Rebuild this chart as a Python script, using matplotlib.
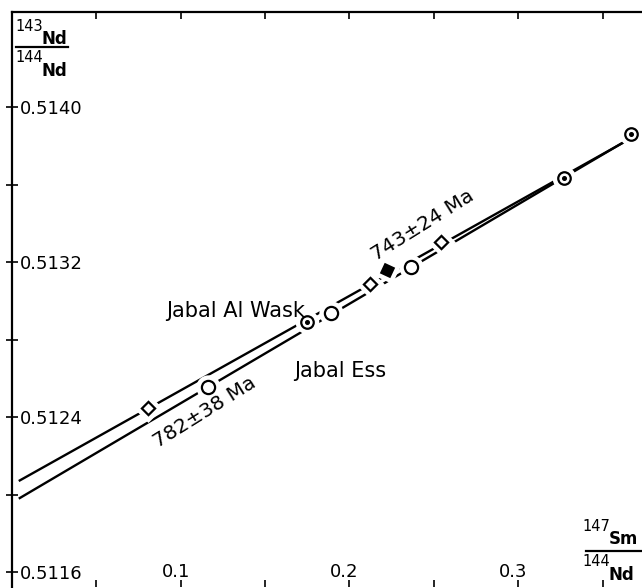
import numpy as np
import matplotlib
matplotlib.use("Agg")
import matplotlib.pyplot as plt
from matplotlib.lines import Line2D

plt.rcParams['font.family'] = ['DejaVu Sans']

# ---- data ----
lam_sm = 6.54e-12                     # 147Sm decay constant (1/yr)
iso_ages_ma = [743, 782]              # isochron ages (Ma)
iso_intercepts = [0.512052, 0.511960] # initial 143Nd/144Nd
iso_x_range = [0.004, 0.375]

# Jabal Al Wask samples
wask_diamond_x = [0.0807, 0.2119, 0.2544]
wask_diamond_y = [0.512446, 0.513086, 0.513303]
wask_filled_x = [0.2225]
wask_filled_y = [0.513159]
# shared / whole-rock points (dotted circles)
dot_x = [0.1746, 0.3271, 0.3667]
dot_y = [0.512890, 0.513634, 0.513861]
# Jabal Ess samples
ess_circle_x = [0.1161, 0.1888, 0.2367]
ess_circle_y = [0.512555, 0.512937, 0.513174]

y_major = [0.5116, 0.5124, 0.5132, 0.5140]
y_major_labels = ['0.5116', '0.5124', '0.5132', '0.5140']
y_minor = [0.5120, 0.5128, 0.5136]
x_major = [0.1, 0.2, 0.3]
x_major_labels = ['0.1', '0.2', '0.3']
x_minor = [0.05, 0.15, 0.25, 0.35]

# ---- figure ----
W, H = 642, 588
fig = plt.figure(figsize=(W / 100, H / 100), dpi=100)

def fx(px):
    return px / W

def fy(py):
    return 1 - py / H

ax = fig.add_axes([fx(12), fy(587), fx(640) - fx(12) + 0.01, fy(12) - fy(587)])
ax.set_xlim(0.0, 0.376)
ax.set_ylim(0.511525, 0.514490)
ax.spines['right'].set_visible(False)
ax.spines['bottom'].set_visible(False)
for s in ['left', 'top']:
    ax.spines[s].set_linewidth(1.6)

# isochron lines
xs = np.array(iso_x_range)
for age, b in zip(iso_ages_ma, iso_intercepts):
    slope = np.exp(lam_sm * age * 1e6) - 1
    ax.plot(xs, b + slope * xs, color='black', lw=1.7, zorder=2,
            solid_capstyle='butt')

def pts(x, y, marker, ms, face, dot=False):
    # white halo creates the line gaps around the symbols
    ax.plot(x, y, ls='none', marker=marker, ms=ms, mfc='white', mec='white',
            mew=8, zorder=3)
    ax.plot(x, y, ls='none', marker=marker, ms=ms, mfc=face, mec='black',
            mew=1.6, zorder=4)
    if dot:
        ax.plot(x, y, ls='none', marker='o', ms=2.6, mfc='black', mec='black',
                zorder=5)

pts(wask_diamond_x, wask_diamond_y, (4, 0, 0), 9.5, 'white')
pts(wask_filled_x, wask_filled_y, (4, 0, 20), 9.5, 'black')
pts(dot_x, dot_y, 'o', 9.0, 'white', dot=True)
pts(ess_circle_x, ess_circle_y, 'o', 9.5, 'white')

# ticks
ax.set_yticks(y_major)
ax.set_yticklabels(y_major_labels)
ax.set_yticks(y_minor, minor=True)
ax.tick_params(axis='y', which='both', direction='inout', length=9, width=1.2,
               left=True, right=False, labelsize=13, pad=-10)
for lbl in ax.get_yticklabels():
    lbl.set_horizontalalignment('left')

ax.set_xticks(x_major + x_minor)
ax.set_xticklabels([])
ax.tick_params(axis='x', which='both', direction='in', length=5, width=1.2,
               top=True, bottom=True, labelbottom=False)
for xv, lab in zip(x_major, x_major_labels):
    ax.text(xv - 0.003, y_major[0], lab, ha='center', va='center', fontsize=13)

# annotations
ax.text(0.1325, 0.512950, 'Jabal Al Wask', ha='center', va='center', fontsize=15)
ax.text(0.1948, 0.512640, 'Jabal Ess', ha='center', va='center', fontsize=15)
ax.text(0.2432, 0.513390, '743±24 Ma', ha='center', va='center', fontsize=14.5,
        rotation=32, rotation_mode='anchor')
ax.text(0.1140, 0.512425, '782±38 Ma', ha='center', va='center', fontsize=14.5,
        rotation=32, rotation_mode='anchor')

# axis titles as stacked isotope ratios
def ratio(x0, ytop, top_mass, top_el, bot_mass, bot_el, bar_x0, bar_x1, bar_y):
    fig.text(fx(x0), fy(ytop), top_mass, fontsize=10.5, ha='left', va='top')
    fig.text(fx(x0 + 27), fy(ytop + 11), top_el, fontsize=12, fontweight='bold',
             ha='left', va='top')
    fig.add_artist(Line2D([fx(bar_x0), fx(bar_x1)], [fy(bar_y), fy(bar_y)],
                          color='black', lw=1.6, transform=fig.transFigure))
    fig.text(fx(x0), fy(bar_y + 3), bot_mass, fontsize=10.5, ha='left', va='top')
    fig.text(fx(x0 + 27), fy(bar_y + 15), bot_el, fontsize=12, fontweight='bold',
             ha='left', va='top')

ratio(15, 19, '143', 'Nd', '144', 'Nd', 16, 68, 47)
ratio(582, 519, '147', 'Sm', '144', 'Nd', 586, 641, 551)

fig.savefig('out.png', dpi=100)
